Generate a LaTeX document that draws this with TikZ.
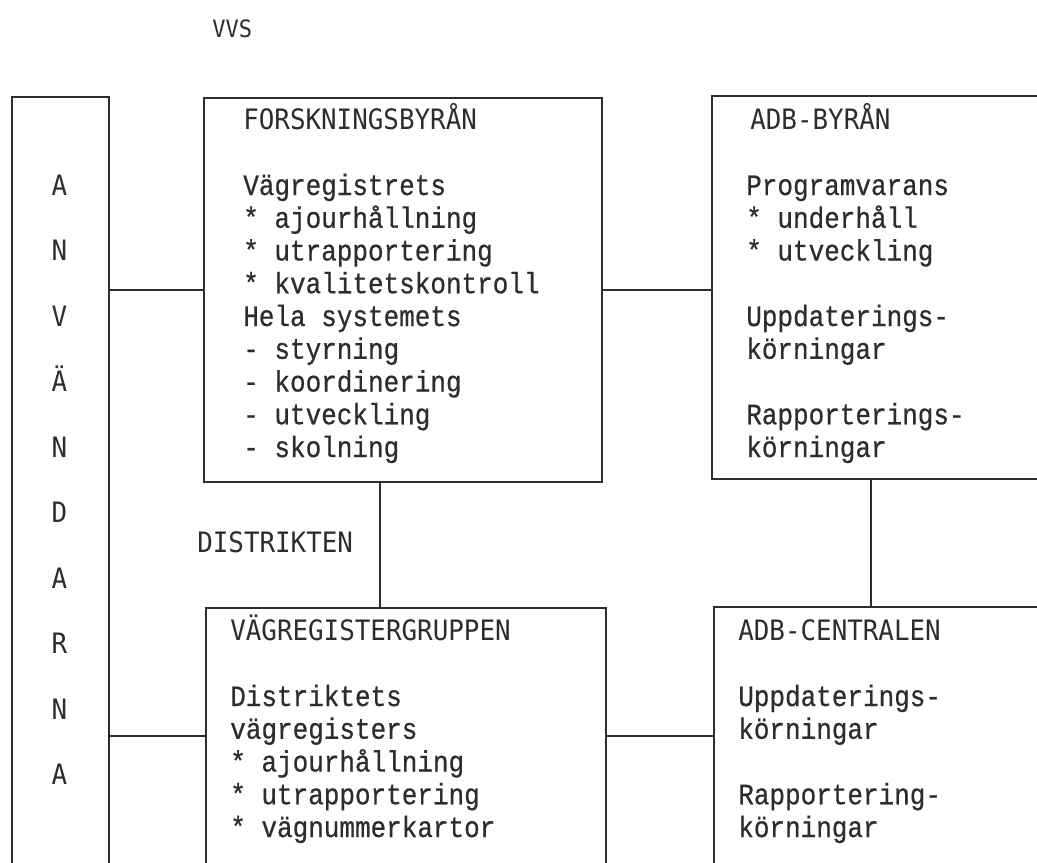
\documentclass[tikz,border=0pt]{standalone}
\usepackage{fontspec}
\newfontfamily\bodyfont[FakeStretch=0.88,FakeBold=0.6]{Liberation Mono}
\newfontfamily\headfont[FakeStretch=0.92]{DejaVu Sans Mono}
\usetikzlibrary{positioning}
\definecolor{ink}{RGB}{45,45,45}

\tikzset{
  box/.style={draw=ink, line width=1.4pt, inner sep=0pt, anchor=north west},
  link/.style={draw=ink, line width=1.4pt},
  head/.style={text=ink, font=\headfont\fontsize{20}{22}\selectfont, anchor=base west, inner sep=0pt},
  body/.style={text=ink, font=\bodyfont\fontsize{21}{22}\selectfont, anchor=base west, inner sep=0pt},
  letter/.style={text=ink, font=\headfont\fontsize{20}{22}\selectfont, anchor=base, inner sep=0pt},
}

\begin{document}
\begin{tikzpicture}[x=0.025cm, y=-0.025cm]
\useasboundingbox (0,0) rectangle (1037,862);
\clip (0,0) rectangle (1037,862);

% title
\node[head, font=\headfont\fontsize{17}{20}\selectfont] (vvs) at (212,37) {VVS};

% boxes
\node[box, minimum width=2.425cm, minimum height=20.1cm] (users) at (11,96) {};
\node[box, minimum width=9.95cm, minimum height=9.6cm] (forsk) at (203,97) {};
\node[box, minimum width=10cm, minimum height=9.575cm] (adbb) at (711,95) {};
\node[box, minimum width=10cm, minimum height=7.5cm] (vagr) at (205,607) {};
\node[box, minimum width=10cm, minimum height=7.5cm] (adbc) at (713,606) {};

% connectors
\draw[link] (forsk.west) -- (forsk.west -| users.east);
\draw[link] (forsk.east) -- (forsk.east -| adbb.west);
\draw[link] ([xshift=-0.575cm]forsk.south) -- ([xshift=-0.575cm]forsk.south |- vagr.north);
\draw[link] ([xshift=4cm]adbb.south west) -- ([xshift=4cm]adbb.south west |- adbc.north);
\draw[link] ([yshift=-3.225cm]vagr.north west) -- ([yshift=-3.225cm]vagr.north west -| users.east);
\draw[link] ([yshift=-3.225cm]vagr.north east) -- ([yshift=-3.225cm]vagr.north east -| adbc.west);

% users column
\foreach \ch [count=\i from 0] in {A,N,V,Ä,N,D,A,R,N,A}
  \node[letter] (user\i) at (59.5,{195+\i*65.5}) {\ch};

\node[head] (distr) at (197,552) {DISTRIKTEN};

% FORSKNINGSBYRAN
\node[head] (forskhead) at (243,129) {FORSKNINGSBYRÅN};
\foreach \k/\txt in {2/Vägregistrets, 3/* ajourhållning, 4/* utrapportering,
    5/* kvalitetskontroll, 6/Hela systemets, 7/- styrning, 8/- koordinering,
    9/- utveckling, 10/- skolning}
  \node[body] (forsktxt\k) at (243,{195+(\k-2)*32.75}) {\txt};

% ADB-BYRAN
\node[head] (adbbhead) at (750,129) {ADB-BYRÅN};
\foreach \k/\txt in {2/Programvarans, 3/* underhåll, 4/* utveckling,
    6/Uppdaterings-, 7/körningar, 9/Rapporterings-, 10/körningar}
  \node[body] (adbbtxt\k) at (746,{195+(\k-2)*32.75}) {\txt};

% VAGREGISTERGRUPPEN
\node[head] (vagrhead) at (230,640) {VÄGREGISTERGRUPPEN};
\foreach \k/\txt in {2/Distriktets, 3/vägregisters, 4/* ajourhållning,
    5/* utrapportering, 6/* vägnummerkartor}
  \node[body] (vagrtxt\k) at (230,{706+(\k-2)*32.75}) {\txt};

% ADB-CENTRALEN
\node[head] (adbchead) at (738,640) {ADB-CENTRALEN};
\foreach \k/\txt in {2/Uppdaterings-, 3/körningar, 5/Rapportering-, 6/körningar}
  \node[body] (adbctxt\k) at (738,{706+(\k-2)*32.75}) {\txt};

\end{tikzpicture}
\end{document}
